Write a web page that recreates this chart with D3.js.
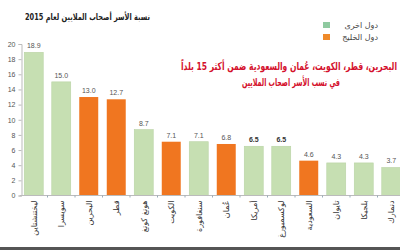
<!DOCTYPE html>
<html>
<head>
<meta charset="utf-8">
<script src="https://cdn.jsdelivr.net/npm/d3@7"></script>
<style>
  body { margin: 0; background: #fff; }
  svg { display: block; font-family: "DejaVu Sans", sans-serif; }
</style>
</head>
<body>
<div id="chart"></div>
<script>
// data
const countries = ["ليختنشتاين", "سويسرا", "البحرين", "قطر", "هونغ كونغ", "الكويت", "سنغافورة",
    "عُمان", "أمريكا", "لوكسمبورغ", "السعودية", "تايوان", "بلجيكا", "دنمارك"];
const values = [18.9, 15.0, 13.0, 12.7, 8.7, 7.1, 7.1, 6.8, 6.5, 6.5, 4.6, 4.3, 4.3, 3.7];
const gulf = [false, false, true, true, false, true, false, true, false, false, true, false, false, false];
const yTicks = [0, 2, 4, 6, 8, 10, 12, 14, 16, 18, 20];
const legendLabels = ["دول اخرى", "دول الخليج"];
const title = "نسبة الأسر أصحاب الملايين لعام 2015";
const note = ["البحرين، قطر، الكويت، عُمان والسعودية ضمن أكثر 15 بلداً", "في نسب الأسر اصحاب الملايين"];

function drawChart() {
    const width = 400, height = 250;
    const green = "#c6dfb2", orange = "#f07620";

    let svg = d3.select("#chart")
        .append("svg")
        .attr("width", width)
        .attr("height", height);

    let x = d3.scaleBand()
        .domain(countries)
        .range([20, 405])
        .paddingInner(0.31)
        .paddingOuter(0.155);

    let y = d3.scaleLinear()
        .domain([0, 20])
        .range([195.5, 44]);

    // y axis
    let yAxis = svg.append("g")
        .attr("transform", "translate(21.5,0)")
        .call(d3.axisLeft(y).tickValues(yTicks).tickSize(3).tickPadding(3));
    yAxis.select(".domain").attr("stroke", "#bbb");
    yAxis.selectAll(".tick line").attr("stroke", "#bbb");
    yAxis.selectAll("text").attr("fill", "#555").style("font-size", "7px")
        .style("font-family", "Liberation Sans, sans-serif");

    // bars
    svg.append("g")
        .selectAll("rect")
        .data(countries)
        .enter()
        .append("rect")
        .attr("x", d => x(d))
        .attr("y", (d, i) => y(values[i]))
        .attr("width", x.bandwidth())
        .attr("height", (d, i) => y(0) - y(values[i]))
        .attr("fill", (d, i) => gulf[i] ? orange : green)
        .attr("stroke", (d, i) => gulf[i] ? "none" : "#b9d3a4")
        .attr("stroke-width", 0.6);

    // value labels
    svg.append("g")
        .selectAll("text")
        .data(countries)
        .enter()
        .append("text")
        .attr("x", d => x(d) + x.bandwidth() / 2)
        .attr("y", (d, i) => y(values[i]) - 4)
        .attr("text-anchor", "middle")
        .attr("fill", (d, i) => values[i] === 6.5 ? "#333" : "#555")
        .style("font-weight", (d, i) => values[i] === 6.5 ? "bold" : "normal")
        .style("font-size", "7px")
        .style("font-family", "Liberation Sans, sans-serif")
        .text((d, i) => values[i].toFixed(1));

    // x axis
    let xAxis = svg.append("g")
        .attr("transform", "translate(0," + y(0) + ")");
    xAxis.append("line")
        .attr("x1", 20).attr("x2", 400)
        .attr("stroke", "#bbb");
    xAxis.selectAll(".sep")
        .data(countries.slice(1))
        .enter()
        .append("line")
        .attr("x1", d => x(d) - x.step() * x.paddingInner() / 2)
        .attr("x2", d => x(d) - x.step() * x.paddingInner() / 2)
        .attr("y1", 0).attr("y2", 2)
        .attr("stroke", "#9ab");

    xAxis.selectAll(".lbl")
        .data(countries)
        .enter()
        .append("text")
        .attr("transform", d => "translate(" + (x(d) + x.bandwidth() / 2 + 3) + ",5) rotate(-90)")
        .attr("text-anchor", "end")
        .attr("fill", "#333")
        .style("font-size", "8px")
        .text(d => d);

    // title
    svg.append("text")
        .attr("x", 25).attr("y", 20)
        .attr("fill", "#222")
        .attr("textLength", 125)
        .attr("lengthAdjust", "spacingAndGlyphs")
        .style("font-size", "9px")
        .style("font-weight", "bold")
        .text(title);

    // legend
    let legend = svg.append("g");
    legendLabels.forEach(function (lab, i) {
        legend.append("rect")
            .attr("x", 323).attr("y", 22 + i * 12)
            .attr("width", 7).attr("height", 6)
            .attr("fill", i === 0 ? "#8fcaa0" : "#ef8a2a");
        legend.append("text")
            .attr("x", 378).attr("y", 28 + i * 12)
            .attr("text-anchor", "end")
            .attr("fill", "#444")
            .style("font-size", "8px")
            .text(lab);
    });

    // red note
    const noteX = [181, 242], noteW = [216, 98];
    note.forEach(function (line, i) {
        svg.append("text")
            .attr("x", noteX[i]).attr("y", 70 + i * 16)
            .attr("fill", "#d4102c")
            .attr("textLength", noteW[i])
            .attr("lengthAdjust", "spacingAndGlyphs")
            .style("font-size", "11px")
            .style("font-weight", "bold")
            .text(line);
    });

    // bottom frame line
    svg.append("rect")
        .attr("x", 0).attr("y", 247)
        .attr("width", width).attr("height", 3)
        .attr("fill", "#555");
}
drawChart();
</script>
</body>
</html>
